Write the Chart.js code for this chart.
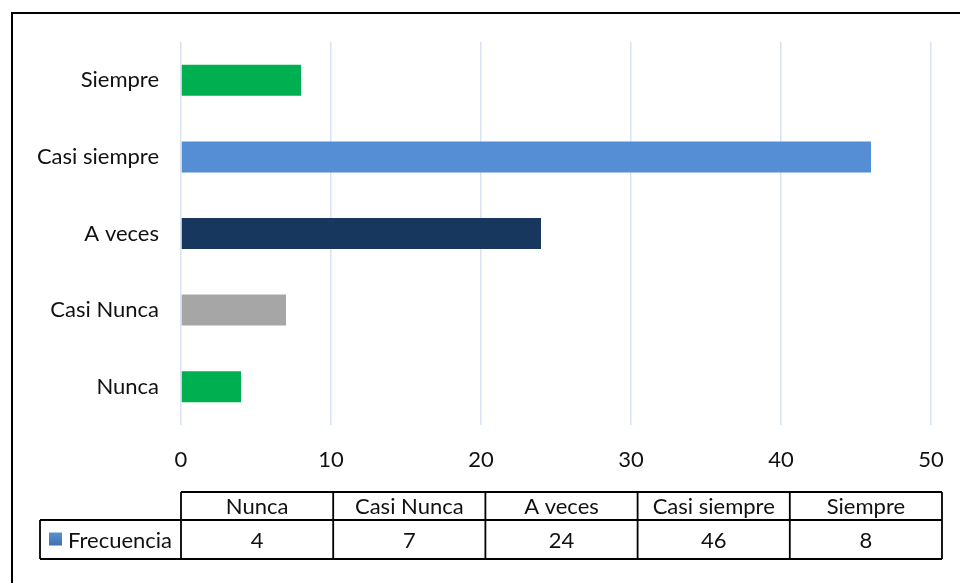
<!DOCTYPE html>
<html>
<head>
<meta charset="utf-8">
<script src="https://cdn.jsdelivr.net/npm/chart.js@4.4.0/dist/chart.umd.min.js"></script>
<style>
  html, body { margin: 0; padding: 0; background: #fff; }
  #wrap { width: 960px; height: 583px; position: relative; }
</style>
</head>
<body>
<div id="wrap"><canvas id="chart"></canvas></div>
<script>
// --- data (table order, bottom to top on the chart) ---
const categories = ['Nunca', 'Casi Nunca', 'A veces', 'Casi siempre', 'Siempre'];
const frecuencia = [4, 7, 24, 46, 8];
const barColors = ['#00b050', '#a6a6a6', '#17375e', '#558ed5', '#00b050'];
const xTicks = [0, 10, 20, 30, 40, 50];
const seriesName = 'Frecuencia';

const FONT = 'Lato, "Open Sans", sans-serif';
const TEXT = '#111';
const FS = 22;

// frame + data table under the axis
const tablePlugin = {
    id: 'dataTable',
    afterDraw(chart) {
        const ctx = chart.ctx;
        const area = chart.chartArea;
        ctx.save();

        // outer frame (right / bottom edges fall outside the picture)
        ctx.strokeStyle = '#000';
        ctx.lineWidth = 2;
        ctx.strokeRect(12, 13, 1000, 1000);

        const left = area.left;
        const colW = (942 - left) / categories.length;
        const top = area.bottom + 67;
        const rowH1 = 28, rowH2 = 39;
        const legLeft = 40;
        const right = left + colW * categories.length;

        ctx.lineWidth = 1.8;
        ctx.beginPath();
        ctx.moveTo(left, top); ctx.lineTo(right, top);
        ctx.moveTo(legLeft, top + rowH1); ctx.lineTo(right, top + rowH1);
        ctx.moveTo(legLeft, top + rowH1 + rowH2); ctx.lineTo(right, top + rowH1 + rowH2);
        ctx.moveTo(legLeft, top + rowH1); ctx.lineTo(legLeft, top + rowH1 + rowH2);
        for (let i = 0; i <= categories.length; i++) {
            const x = left + colW * i;
            ctx.moveTo(x, top); ctx.lineTo(x, top + rowH1 + rowH2);
        }
        ctx.stroke();

        ctx.fillStyle = TEXT;
        ctx.font = FS + 'px ' + FONT;
        ctx.textAlign = 'center';
        ctx.textBaseline = 'middle';
        categories.forEach((c, i) => {
            const cx = left + colW * (i + 0.5);
            ctx.fillText(c, cx, top + rowH1 / 2 + 1);
            ctx.fillText(String(frecuencia[i]), cx, top + rowH1 + rowH2 / 2 + 1);
        });

        // legend key
        const ky = top + rowH1 + rowH2 / 2;
        const grad = ctx.createLinearGradient(0, ky - 7, 0, ky + 7);
        grad.addColorStop(0, '#5b8fd0');
        grad.addColorStop(1, '#3e6fb0');
        ctx.fillStyle = grad;
        ctx.fillRect(49, ky - 7, 13, 13);
        ctx.fillStyle = TEXT;
        ctx.textAlign = 'left';
        ctx.fillText(seriesName, 68, ky + 1);

        ctx.restore();
    }
};

new Chart(document.getElementById('chart'), {
    type: 'bar',
    data: {
        labels: categories,
        datasets: [{
            label: seriesName,
            data: frecuencia,
            backgroundColor: barColors,
            borderWidth: 0,
            categoryPercentage: 1,
            barPercentage: 0.405
        }]
    },
    options: {
        indexAxis: 'y',
        responsive: true,
        maintainAspectRatio: false,
        animation: false,
        layout: { padding: { top: 42, right: 29, left: 0, bottom: 0 } },
        plugins: {
            legend: { display: false },
            tooltip: { enabled: false }
        },
        scales: {
            x: {
                min: 0,
                max: 50,
                afterBuildTicks: (s) => { s.ticks = xTicks.map(v => ({ value: v })); },
                afterFit: (s) => {
                    s.height = 583 - 425;
                    s.paddingRight = 0;
                    s.paddingLeft = 0;
                },
                grid: { color: '#d9e3f1', lineWidth: 1.5, drawTicks: false },
                border: { display: false },
                ticks: { color: TEXT, font: { family: FONT, size: FS }, padding: 22, maxRotation: 0 }
            },
            y: {
                reverse: true,
                afterFit: (s) => { s.width = 181; },
                grid: { display: false, drawTicks: false },
                border: { display: false },
                ticks: { color: TEXT, font: { family: FONT, size: FS }, padding: 22 }
            }
        }
    },
    plugins: [tablePlugin]
});
</script>
</body>
</html>
